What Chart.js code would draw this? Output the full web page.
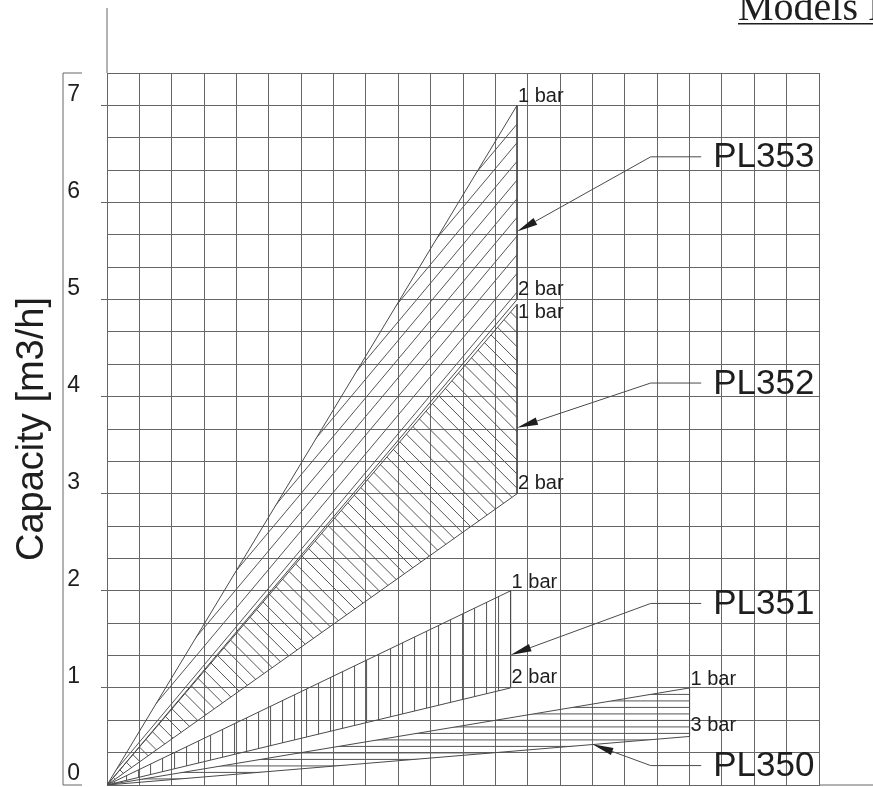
<!DOCTYPE html>
<html>
<head>
<meta charset="utf-8">
<title>Capacity PL350 - PL353</title>
<script src="https://cdn.jsdelivr.net/npm/chart.js@4.4.1/dist/chart.umd.min.js"></script>
<style>
  html, body { margin: 0; padding: 0; background: #fff; }
  canvas { display: block; }
</style>
</head>
<body>
<canvas id="chart" width="873" height="787"></canvas>
<script>
// models, bottom to top
const models = ["PL350", "PL351", "PL352", "PL353"];
// where each fan ends on the x grid
const endX = [18.0, 12.47, 12.67, 12.67];
// capacity at the end of each fan [m3/h]
const capHigh = [1.0, 2.0, 4.95, 7.0];
const capLow = [0.5, 1.0, 3.0, 5.0];
const highLabels = ["1 bar", "1 bar", "1 bar", "1 bar"];
const lowLabels = ["3 bar", "2 bar", "2 bar", "2 bar"];
// y tick labels (whole m3/h)
const yTickLabels = ["0", "1", "2", "3", "4", "5", "6", "7"];
// where the model arrows point
const arrowTipX = [15.0, 12.47, 12.67, 12.67];
const arrowTipY = [0.42, 1.34, 3.68, 5.7];
const calloutY = [0.2, 1.87, 4.14, 6.47];

const gridColor = "#666";
const lineColor = "#4a4a4a";
const textColor = "#1e1e1e";

// hatch style per fan
const hatch = [
  { angle: 0, gap: 6.5 },    // PL350 horizontal
  { angle: 90, gap: 12 },    // PL351 vertical
  { angle: -45, gap: 10 },   // PL352
  { angle: 50, gap: 12 },    // PL353
];
const highLabelBelow = [false, false, true, false];

const datasets = models.map((m, i) => ({
  label: m,
  data: [
    { x: 0, y: 0 },
    { x: endX[i], y: capHigh[i] },
    { x: endX[i], y: capLow[i] },
    { x: 0, y: 0 },
  ],
  showLine: true,
  borderColor: lineColor,
  borderWidth: 1,
  pointRadius: 0,
  fill: false,
}));

const isWhole = (v) => Math.abs(v - Math.round(v)) < 1e-6;

const overlay = {
  id: "overlay",
  beforeDatasetsDraw(chart) {
    const ctx = chart.ctx, area = chart.chartArea;
    chart.data.datasets.forEach((ds, i) => {
      const pts = chart.getDatasetMeta(i).data;
      const h = hatch[i];
      ctx.save();
      ctx.beginPath();
      ctx.rect(area.left, area.top, area.width, area.height);
      ctx.clip();
      ctx.beginPath();
      pts.forEach((p, j) => (j ? ctx.lineTo(p.x, p.y) : ctx.moveTo(p.x, p.y)));
      ctx.closePath();
      ctx.clip();
      const a = (h.angle * Math.PI) / 180;
      const dx = Math.cos(a), dy = -Math.sin(a);
      const nx = -dy, ny = dx;
      const ax = pts[1].x, ay = pts[1].y;
      let lo = Infinity, hi = -Infinity, len = 0;
      pts.forEach((p) => {
        const s = (p.x - ax) * nx + (p.y - ay) * ny;
        lo = Math.min(lo, s);
        hi = Math.max(hi, s);
        len = Math.max(len, Math.hypot(p.x - ax, p.y - ay));
      });
      len += 10;
      ctx.strokeStyle = "#555";
      ctx.lineWidth = 1;
      ctx.beginPath();
      for (let k = Math.ceil(lo / h.gap); k <= Math.floor(hi / h.gap); k++) {
        const cx = ax + nx * k * h.gap, cy = ay + ny * k * h.gap;
        ctx.moveTo(cx - dx * len, cy - dy * len);
        ctx.lineTo(cx + dx * len, cy + dy * len);
      }
      ctx.stroke();
      ctx.restore();
    });
  },
  afterDraw(chart) {
    const ctx = chart.ctx, area = chart.chartArea;
    const xs = chart.scales.x, ys = chart.scales.y;
    ctx.save();

    // extra axis lines
    ctx.strokeStyle = gridColor;
    ctx.lineWidth = 1;
    ctx.beginPath();
    ctx.moveTo(area.left, 8);
    ctx.lineTo(area.left, area.top);
    ctx.moveTo(area.right, area.bottom);
    ctx.lineTo(chart.width, area.bottom);
    // bracket beside the tick labels
    ctx.moveTo(82, area.top);
    ctx.lineTo(63, area.top);
    ctx.lineTo(63, area.bottom);
    ctx.lineTo(82, area.bottom);
    ctx.stroke();

    // pressure labels
    ctx.fillStyle = textColor;
    ctx.font = '20px "Liberation Sans", Arial, sans-serif';
    ctx.textAlign = "left";
    models.forEach((m, i) => {
      const pts = chart.getDatasetMeta(i).data;
      const hp = pts[1], lp = pts[2];
      if (highLabelBelow[i]) {
        ctx.textBaseline = "top";
        ctx.fillText(highLabels[i], hp.x + 1, hp.y - 2);
      } else {
        ctx.textBaseline = "alphabetic";
        ctx.fillText(highLabels[i], hp.x + 1, hp.y - 3);
      }
      ctx.textBaseline = "alphabetic";
      ctx.fillText(lowLabels[i], lp.x + 1, lp.y - 5);
    });

    // model callouts
    const elbowX = xs.getPixelForValue(16.8);
    const endLineX = xs.getPixelForValue(18.36);
    const labelX = xs.getPixelForValue(18.73);
    ctx.font = '35px "Liberation Sans", Arial, sans-serif';
    ctx.textBaseline = "middle";
    models.forEach((m, i) => {
      const tx = xs.getPixelForValue(arrowTipX[i]);
      const ty = ys.getPixelForValue(arrowTipY[i]);
      const ey = ys.getPixelForValue(calloutY[i]);
      const ux = elbowX - tx, uy = ey - ty;
      const ul = Math.hypot(ux, uy);
      const vx = ux / ul, vy = uy / ul;
      const headLen = 21, headW = 3.8;
      ctx.strokeStyle = lineColor;
      ctx.beginPath();
      ctx.moveTo(endLineX, ey);
      ctx.lineTo(elbowX, ey);
      ctx.lineTo(tx + vx * headLen, ty + vy * headLen);
      ctx.stroke();
      ctx.fillStyle = textColor;
      ctx.beginPath();
      ctx.moveTo(tx, ty);
      ctx.lineTo(tx + vx * headLen - vy * headW, ty + vy * headLen + vx * headW);
      ctx.lineTo(tx + vx * headLen + vy * headW, ty + vy * headLen - vx * headW);
      ctx.closePath();
      ctx.fill();
      ctx.fillText(m, labelX, ey + 1);
    });

    // title, cut by the right edge
    ctx.font = '40px "Liberation Serif", serif';
    ctx.textBaseline = "alphabetic";
    ctx.fillText("Models PL350 - PL353", 738, 20);
    ctx.fillRect(738, 23, chart.width - 738, 1.5);
    ctx.restore();
  },
};

new Chart(document.getElementById("chart"), {
  type: "scatter",
  data: { datasets },
  options: {
    responsive: false,
    animation: false,
    devicePixelRatio: 1,
    layout: { padding: { left: 0, top: 73, right: 54, bottom: 2 } },
    plugins: { legend: { display: false }, tooltip: { enabled: false } },
    scales: {
      x: {
        type: "linear",
        min: 0,
        max: 22,
        ticks: { display: false, stepSize: 1 },
        grid: { color: gridColor, lineWidth: 1, drawTicks: false },
        border: { color: gridColor },
        afterFit: (s) => { s.height = 0; s.paddingLeft = 0; s.paddingRight = 0; },
      },
      y: {
        type: "linear",
        min: 0,
        max: 22 / 3,
        afterBuildTicks: (s) => {
          s.ticks = Array.from({ length: 23 }, (_, i) => ({ value: i / 3 }));
        },
        ticks: {
          padding: 21,
          labelOffset: -11,
          color: textColor,
          font: { family: '"Liberation Sans", Arial, sans-serif', size: 23 },
          autoSkip: false,
          callback: (v) => (isWhole(v) && Math.round(v) < yTickLabels.length ? yTickLabels[Math.round(v)] : ""),
        },
        grid: {
          color: gridColor,
          lineWidth: 1,
          tickLength: 6,
          tickColor: (c) => (isWhole(c.tick.value) && Math.round(c.tick.value) >= 1 && Math.round(c.tick.value) <= 7 ? gridColor : "rgba(0,0,0,0)"),
        },
        border: { color: gridColor },
        title: {
          display: true,
          text: "Capacity [m3/h]",
          color: textColor,
          font: { family: '"Liberation Sans", Arial, sans-serif', size: 38 },
          padding: { top: 10, bottom: 0 },
        },
        afterFit: (s) => { s.width = 107; s.paddingTop = 0; s.paddingBottom = 0; },
      },
    },
  },
  plugins: [overlay],
});
</script>
</body>
</html>
